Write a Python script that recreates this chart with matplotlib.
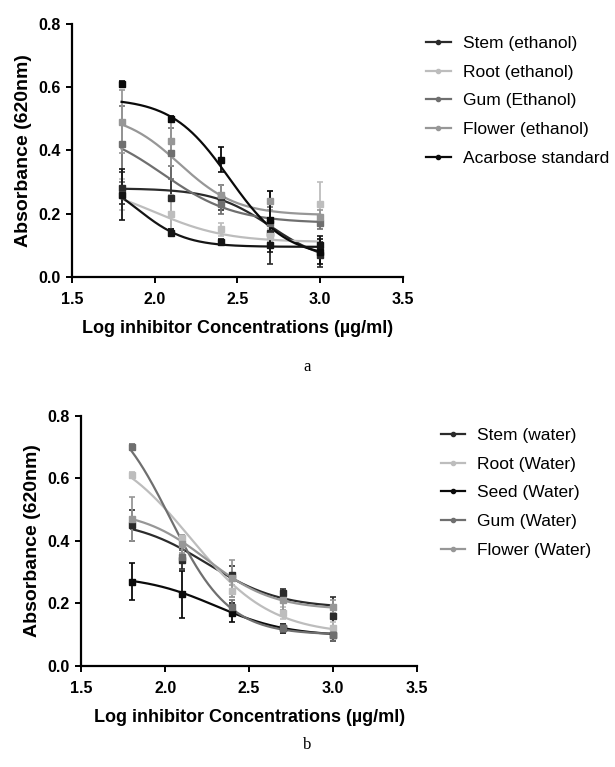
import numpy as np
import matplotlib
matplotlib.use("Agg")
import matplotlib.pyplot as plt

plt.rcParams['font.family'] = ['Liberation Sans', 'DejaVu Sans']

# log concentrations (same for both panels)
log_conc = [1.8, 2.1, 2.4, 2.7, 3.0]

# ---- panel a (ethanol extracts) ----
a_names = ["Stem (ethanol)", "Root (ethanol)", "Gum (Ethanol)",
           "Flower (ethanol)", "Acarbose standard", "_extra"]
a_colors = ["#2b2b2b", "#bdbdbd", "#6f6f6f", "#979797", "#0a0a0a", "#151515"]
a_means = [[0.28, 0.25, 0.25, 0.14, 0.07],
           [0.26, 0.20, 0.15, 0.13, 0.23],
           [0.42, 0.39, 0.23, 0.17, 0.17],
           [0.49, 0.43, 0.26, 0.24, 0.19],
           [0.61, 0.50, 0.37, 0.18, 0.08],
           [0.26, 0.14, 0.11, 0.10, 0.10]]
a_err = [[0.05, 0.10, 0.04, 0.10, 0.04],
         [0.05, 0.06, 0.02, 0.02, 0.07],
         [0.12, 0.08, 0.03, 0.05, 0.02],
         [0.10, 0.08, 0.03, 0.03, 0.02],
         [0.01, 0.01, 0.04, 0.09, 0.04],
         [0.08, 0.01, 0.01, 0.02, 0.03]]
# fitted 4PL parameters: top, bottom, logIC50, hill
a_fit = [[0.28, 0.04, 2.70, 2.5],
         [0.30, 0.11, 2.00, 2.0],
         [0.48, 0.17, 2.05, 2.0],
         [0.52, 0.195, 2.15, 2.5],
         [0.565, 0.06, 2.45, 2.5],
         [0.33, 0.095, 1.90, 3.0]]

# ---- panel b (water extracts) ----
b_names = ["Stem (water)", "Root (Water)", "Seed (Water)",
           "Gum (Water)", "Flower (Water)"]
b_colors = ["#2b2b2b", "#bdbdbd", "#0a0a0a", "#6f6f6f", "#979797"]
b_means = [[0.45, 0.34, 0.29, 0.235, 0.16],
           [0.61, 0.41, 0.24, 0.17, 0.12],
           [0.27, 0.23, 0.17, 0.12, 0.10],
           [0.70, 0.35, 0.19, 0.12, 0.10],
           [0.47, 0.39, 0.28, 0.21, 0.19]]
b_err = [[0.05, 0.03, 0.03, 0.01, 0.06],
         [0.01, 0.01, 0.02, 0.02, 0.02],
         [0.06, 0.075, 0.03, 0.015, 0.02],
         [0.01, 0.02, 0.02, 0.01, 0.02],
         [0.07, 0.03, 0.06, 0.03, 0.02]]
b_fit = [[0.47, 0.185, 2.25, 2.0],
         [0.72, 0.10, 2.15, 1.8],
         [0.29, 0.095, 2.30, 2.0],
         [0.85, 0.10, 2.028, 2.45],
         [0.50, 0.18, 2.25, 2.2]]


def four_pl(x, top, bottom, ic50, hill):
    return bottom + (top - bottom) / (1 + 10 ** ((x - ic50) * hill))


def draw_panel(ax, names, colors, means, errs, fits, leg_anchor):
    xs = np.linspace(log_conc[0], log_conc[-1], 200)
    for name, c, m, e, p in zip(names, colors, means, errs, fits):
        ax.plot(xs, four_pl(xs, *p), color=c, lw=1.6)
        ax.errorbar(log_conc, m, yerr=e, fmt='s', color=c, ms=4,
                    elinewidth=1.3, capsize=2.5, capthick=1.2)
        ax.plot([], [], color=c, marker='o', ms=3, lw=1.6,
                label=name if not name.startswith("_") else "_nolegend_")
    ax.set_xlim(1.5, 3.5)
    ax.set_ylim(0, 0.8)
    ax.set_xticks([1.5, 2.0, 2.5, 3.0, 3.5])
    ax.set_yticks([0.0, 0.2, 0.4, 0.6, 0.8])
    ax.xaxis.set_major_formatter(matplotlib.ticker.FormatStrFormatter('%.1f'))
    ax.yaxis.set_major_formatter(matplotlib.ticker.FormatStrFormatter('%.1f'))
    for s in ['top', 'right']:
        ax.spines[s].set_visible(False)
    for s in ['left', 'bottom']:
        ax.spines[s].set_linewidth(1.6)
    ax.tick_params(width=1.4, length=4, labelsize=11.5, pad=4)
    ax.tick_params(axis='x', pad=7)
    for lab in ax.get_xticklabels() + ax.get_yticklabels():
        lab.set_fontweight('bold')
    ax.set_xlabel("Log inhibitor Concentrations (µg/ml)", fontsize=13,
                  fontweight='bold', labelpad=9)
    ax.set_ylabel("Absorbance (620nm)", fontsize=14, fontweight='bold',
                  labelpad=5)
    ax.legend(loc='upper left', bbox_to_anchor=leg_anchor, frameon=False,
              fontsize=12.5, handlelength=1.4, handletextpad=0.7,
              labelspacing=0.78, borderaxespad=0)


fig = plt.figure(figsize=(6.15, 7.67), dpi=100)
ax1 = fig.add_axes([0.117, 0.639, 0.538, 0.330])
ax2 = fig.add_axes([0.132, 0.1317, 0.546, 0.326])

draw_panel(ax1, a_names, a_colors, a_means, a_err, a_fit, (1.05, 0.98))
draw_panel(ax2, b_names, b_colors, b_means, b_err, b_fit, (1.05, 0.98))

fig.text(0.5, 0.5215, "a", ha='center', va='center',
         family='Liberation Serif', fontsize=12)
fig.text(0.5, 0.029, "b", ha='center', va='center',
         family='Liberation Serif', fontsize=12)

fig.savefig("out.png", dpi=100, facecolor='white')
